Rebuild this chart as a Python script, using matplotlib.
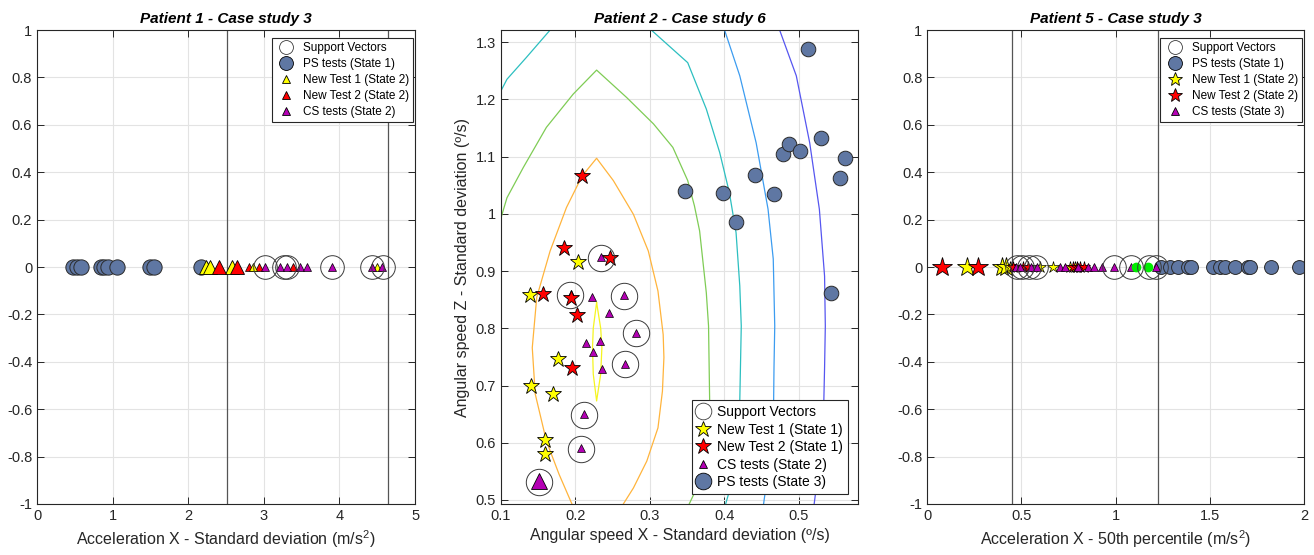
import numpy as np
import matplotlib
matplotlib.use('Agg')
import matplotlib.pyplot as plt
from matplotlib.lines import Line2D

plt.rcParams['font.family'] = ['Liberation Sans', 'DejaVu Sans']
plt.rcParams['mathtext.fontset'] = 'custom'
plt.rcParams['mathtext.rm'] = 'Liberation Sans'

# ---- Patient 1 - Case study 3 (1D) ----
p1_ps = [0.48, 0.53, 0.58, 0.84, 0.89, 0.94, 1.06, 1.49, 1.55, 2.17]
p1_new1_big = [2.24, 2.29, 2.58]
p1_new2_big = [2.40, 2.64]
p1_new1 = [2.86, 4.49]
p1_new2 = [2.80, 2.94, 3.39]
p1_cs = [3.02, 3.21, 3.30, 3.48, 3.57, 3.90, 4.43, 4.56]
p1_sv = [3.02, 3.26, 3.31, 3.90, 4.43, 4.57]
p1_bounds = [2.513, 4.643]

# ---- Patient 2 - Case study 6 (2D) ----
p2_new1_x = [0.139, 0.204, 0.176, 0.140, 0.170, 0.159, 0.159]
p2_new1_y = [0.858, 0.915, 0.746, 0.699, 0.686, 0.605, 0.580]
p2_new2_x = [0.209, 0.185, 0.247, 0.157, 0.194, 0.202, 0.196]
p2_new2_y = [1.066, 0.941, 0.922, 0.860, 0.852, 0.824, 0.730]
p2_cs_x = [0.234, 0.194, 0.222, 0.265, 0.245, 0.281, 0.214, 0.233, 0.223, 0.267, 0.236, 0.211, 0.208]
p2_cs_y = [0.925, 0.860, 0.855, 0.858, 0.827, 0.792, 0.775, 0.778, 0.759, 0.738, 0.728, 0.650, 0.590]
p2_cs_big_x = [0.151]
p2_cs_big_y = [0.534]
p2_sv_x = [0.234, 0.193, 0.265, 0.281, 0.267, 0.211, 0.208, 0.151]
p2_sv_y = [0.923, 0.858, 0.857, 0.791, 0.737, 0.649, 0.589, 0.532]
p2_ps_x = [0.347, 0.399, 0.416, 0.441, 0.467, 0.479, 0.487, 0.502, 0.530, 0.513, 0.562, 0.556, 0.544]
p2_ps_y = [1.039, 1.037, 0.986, 1.068, 1.034, 1.105, 1.122, 1.110, 1.133, 1.287, 1.098, 1.063, 0.862]

# decision function contour lines
c_yellow_x = [0.2285, 0.2340, 0.2356, 0.2340, 0.2285, 0.2240, 0.2230, 0.2240, 0.2285]
c_yellow_y = [0.845, 0.800, 0.766, 0.720, 0.673, 0.720, 0.766, 0.800, 0.845]
c_orange_x = [0.197, 0.178, 0.161, 0.146, 0.142, 0.148, 0.166, 0.188, 0.209, 0.2285,
              0.251, 0.278, 0.298, 0.311, 0.318, 0.319, 0.317, 0.311, 0.296, 0.278, 0.262]
c_orange_y = [0.488, 0.545, 0.603, 0.685, 0.766, 0.854, 0.935, 1.011, 1.066, 1.097,
              1.058, 0.999, 0.935, 0.865, 0.789, 0.749, 0.690, 0.626, 0.568, 0.521, 0.488]
c_green_x = [0.098, 0.100, 0.108, 0.130, 0.161, 0.197, 0.2285, 0.269, 0.305, 0.331,
             0.351, 0.360, 0.367, 0.376, 0.379, 0.3805, 0.376, 0.353]
c_green_y = [0.980, 0.993, 1.028, 1.081, 1.151, 1.209, 1.251, 1.203, 1.157, 1.116,
             1.058, 1.014, 0.970, 0.862, 0.804, 0.673, 0.556, 0.493]
c_cyan_l_x = [0.098, 0.100, 0.108, 0.134, 0.166, 0.170]
c_cyan_l_y = [1.208, 1.215, 1.235, 1.273, 1.321, 1.326]
c_cyan_r_x = [0.298, 0.302, 0.351, 0.376, 0.394, 0.407, 0.416, 0.421, 0.423, 0.421, 0.416, 0.402]
c_cyan_r_y = [1.326, 1.321, 1.264, 1.183, 1.107, 1.037, 0.967, 0.874, 0.804, 0.673, 0.556, 0.493]
c_lblue_x = [0.400, 0.421, 0.443, 0.459, 0.466, 0.468, 0.467, 0.466, 0.453]
c_lblue_y = [1.323, 1.241, 1.124, 1.008, 0.921, 0.804, 0.731, 0.615, 0.493]
c_blue_x = [0.474, 0.497, 0.515, 0.528, 0.535, 0.536, 0.535, 0.533, 0.521]
c_blue_y = [1.323, 1.241, 1.124, 1.008, 0.891, 0.804, 0.731, 0.615, 0.493]

# ---- Patient 5 - Case study 3 (1D) ----
p5_ps = [1.243, 1.287, 1.331, 1.384, 1.402, 1.516, 1.552, 1.579, 1.632, 1.702, 1.711, 1.826, 1.972]
p5_new1_big = [0.212, 0.394, 0.417]
p5_new2_big = [0.076, 0.267]
p5_new1 = [0.440, 0.598, 0.668, 0.757, 0.785]
p5_new2 = [0.455, 0.509, 0.536, 0.775, 0.795, 0.812, 0.830]
p5_cs = [0.469, 0.490, 0.553, 0.585, 0.704, 0.730, 0.802, 0.854, 0.886, 0.925, 0.990, 1.084, 1.216]
p5_green = [1.107, 1.172]
p5_sv = [0.474, 0.505, 0.540, 0.575, 0.990, 1.084, 1.178, 1.216]
p5_bounds = [0.4475, 1.225]

ps_col = '#5f77a3'
yel = '#ffff00'
red = '#ff0000'
mag = '#b400b4'
sv_edge = '#3a3a3a'

fig = plt.figure(figsize=(13.14, 5.55), dpi=100)
ax1 = fig.add_axes([0.0282, 0.0919, 0.2877, 0.854])
ax2 = fig.add_axes([0.3813, 0.0919, 0.2717, 0.854])
ax3 = fig.add_axes([0.7057, 0.0919, 0.2867, 0.854])


def style(ax):
    ax.grid(True, color='#e3e3e3', linewidth=0.8)
    ax.set_axisbelow(True)
    ax.tick_params(direction='in', top=True, right=True, length=5, width=0.7,
                   labelsize=10.5, color='#262626', labelcolor='#262626')
    for s in ax.spines.values():
        s.set_color('#262626')
        s.set_linewidth(0.8)


def zeros(v):
    return np.zeros(len(v))


def leg(ax, handles, loc, anchor, fs, spacing, hl):
    lg = ax.legend(handles=handles, loc=loc, bbox_to_anchor=anchor, fontsize=fs,
                   fancybox=False, edgecolor='#262626', framealpha=1,
                   handlelength=hl, handletextpad=0.5, borderpad=0.35,
                   labelspacing=spacing, borderaxespad=0)
    lg.get_frame().set_linewidth(0.8)


def proxy(marker, face, ms, label, edge='k'):
    return Line2D([], [], linestyle='none', marker=marker, markerfacecolor=face,
                  markeredgecolor=edge, markeredgewidth=0.6, markersize=ms, label=label)


# Patient 1
ax = ax1
style(ax)
for b in p1_bounds:
    ax.axvline(b, color='#555555', linewidth=0.9, zorder=1)
ax.plot(p1_ps, zeros(p1_ps), 'o', ms=11, mfc=ps_col, mec='#2a2a2a', mew=0.7)
ax.plot(p1_new1_big, zeros(p1_new1_big), '^', ms=10.5, mfc=yel, mec='k', mew=0.6)
ax.plot(p1_new2_big, zeros(p1_new2_big), '^', ms=10.5, mfc=red, mec='k', mew=0.6)
ax.plot(p1_new2, zeros(p1_new2), '^', ms=6, mfc=red, mec='k', mew=0.5)
ax.plot(p1_new1, zeros(p1_new1), '^', ms=6, mfc=yel, mec='k', mew=0.5)
ax.plot(p1_cs, zeros(p1_cs), '^', ms=6, mfc=mag, mec='k', mew=0.5)
ax.plot(p1_sv, zeros(p1_sv), 'o', ms=17, mfc='none', mec=sv_edge, mew=0.7)
ax.set_xlim(0, 5)
ax.set_ylim(-1, 1)
ax.set_xticks(np.arange(0, 6))
ax.set_yticks(np.round(np.arange(-1, 1.01, 0.2), 1))
ax.set_yticklabels(['-1', '-0.8', '-0.6', '-0.4', '-0.2', '0', '0.2', '0.4', '0.6', '0.8', '1'])
ax.set_xlabel('Acceleration X - Standard deviation (m/s$^2$)', fontsize=11.5, color='#262626')
ax.set_title('Patient 1 - Case study 3', fontsize=11, fontweight='bold', fontstyle='italic', pad=5)
leg(ax, [proxy('o', 'white', 10, 'Support Vectors', sv_edge),
         proxy('o', ps_col, 10, 'PS tests (State 1)'),
         proxy('^', yel, 6, 'New Test 1 (State 2)'),
         proxy('^', red, 6, 'New Test 2 (State 2)'),
         proxy('^', mag, 6, 'CS tests (State 2)')],
    'upper right', (0.995, 0.983), 8.5, 0.33, 1.8)

# Patient 2
ax = ax2
style(ax)
ax.plot(c_blue_x, c_blue_y, color='#5656f0', lw=0.9)
ax.plot(c_lblue_x, c_lblue_y, color='#3c9cf0', lw=0.9)
ax.plot(c_cyan_l_x, c_cyan_l_y, color='#2cbfc0', lw=0.9)
ax.plot(c_cyan_r_x, c_cyan_r_y, color='#2cbfc0', lw=0.9)
ax.plot(c_green_x, c_green_y, color='#7fcc55', lw=0.9)
ax.plot(c_orange_x, c_orange_y, color='#ffb43c', lw=0.9)
ax.plot(c_yellow_x, c_yellow_y, color='#f5f520', lw=0.9)
ax.plot(p2_ps_x, p2_ps_y, 'o', ms=10.5, mfc=ps_col, mec='#2a2a2a', mew=0.7)
ax.plot(p2_cs_x, p2_cs_y, '^', ms=6, mfc=mag, mec='k', mew=0.5)
ax.plot(p2_cs_big_x, p2_cs_big_y, '^', ms=12, mfc=mag, mec='k', mew=0.6)
ax.plot(p2_new1_x, p2_new1_y, '*', ms=12, mfc=yel, mec='k', mew=0.6)
ax.plot(p2_new2_x, p2_new2_y, '*', ms=12, mfc=red, mec='k', mew=0.6)
ax.plot(p2_sv_x, p2_sv_y, 'o', ms=19, mfc='none', mec=sv_edge, mew=0.7)
ax.set_xlim(0.1, 0.58)
ax.set_ylim(0.493, 1.321)
ax.set_xticks([0.1, 0.2, 0.3, 0.4, 0.5])
ax.set_xticklabels(['0.1', '0.2', '0.3', '0.4', '0.5'])
ax.set_yticks([0.5, 0.6, 0.7, 0.8, 0.9, 1.0, 1.1, 1.2, 1.3])
ax.set_yticklabels(['0.5', '0.6', '0.7', '0.8', '0.9', '1', '1.1', '1.2', '1.3'])
ax.set_xlabel('Angular speed X - Standard deviation (º/s)', fontsize=11.5, color='#262626')
ax.set_ylabel('Angular speed Z - Standard deviation (º/s)', fontsize=11.5, color='#262626')
ax.set_title('Patient 2 - Case study 6', fontsize=11, fontweight='bold', fontstyle='italic', pad=5)
leg(ax, [proxy('o', 'white', 12, 'Support Vectors', sv_edge),
         proxy('*', yel, 12, 'New Test 1 (State 1)'),
         proxy('*', red, 12, 'New Test 2 (State 1)'),
         proxy('^', mag, 6, 'CS tests (State 2)'),
         proxy('o', ps_col, 12, 'PS tests (State 3)')],
    'lower right', (0.972, 0.021), 10, 0.25, 1.0)

# Patient 5
ax = ax3
style(ax)
for b in p5_bounds:
    ax.axvline(b, color='#555555', linewidth=0.9, zorder=1)
ax.plot(p5_ps, zeros(p5_ps), 'o', ms=10, mfc=ps_col, mec='#2a2a2a', mew=0.7)
ax.plot(p5_new1_big, zeros(p5_new1_big), '*', ms=15, mfc=yel, mec='k', mew=0.6)
ax.plot(p5_new2_big, zeros(p5_new2_big), '*', ms=15, mfc=red, mec='k', mew=0.6)
ax.plot(p5_new1, zeros(p5_new1), '*', ms=9, mfc=yel, mec='k', mew=0.5)
ax.plot(p5_new2, zeros(p5_new2), '*', ms=9, mfc=red, mec='k', mew=0.5)
ax.plot(p5_cs, zeros(p5_cs), '^', ms=6, mfc=mag, mec='k', mew=0.5)
ax.plot(p5_green, zeros(p5_green), 'o', ms=6, mfc='#00ee00', mec='#00ee00')
ax.plot(p5_sv, zeros(p5_sv), 'o', ms=17, mfc='none', mec=sv_edge, mew=0.7)
ax.set_xlim(0, 2)
ax.set_ylim(-1, 1)
ax.set_xticks([0, 0.5, 1, 1.5, 2])
ax.set_xticklabels(['0', '0.5', '1', '1.5', '2'])
ax.set_yticks(np.round(np.arange(-1, 1.01, 0.2), 1))
ax.set_yticklabels(['-1', '-0.8', '-0.6', '-0.4', '-0.2', '0', '0.2', '0.4', '0.6', '0.8', '1'])
ax.set_xlabel('Acceleration X - 50th percentile (m/s$^2$)', fontsize=11.5, color='#262626')
ax.set_title('Patient 5 - Case study 3', fontsize=11, fontweight='bold', fontstyle='italic', pad=5)
leg(ax, [proxy('o', 'white', 10, 'Support Vectors', sv_edge),
         proxy('o', ps_col, 10, 'PS tests (State 1)'),
         proxy('*', yel, 10, 'New Test 1 (State 2)'),
         proxy('*', red, 10, 'New Test 2 (State 2)'),
         proxy('^', mag, 6, 'CS tests (State 3)')],
    'upper right', (0.995, 0.983), 8.5, 0.33, 1.8)

fig.savefig('out.png', dpi=100)
